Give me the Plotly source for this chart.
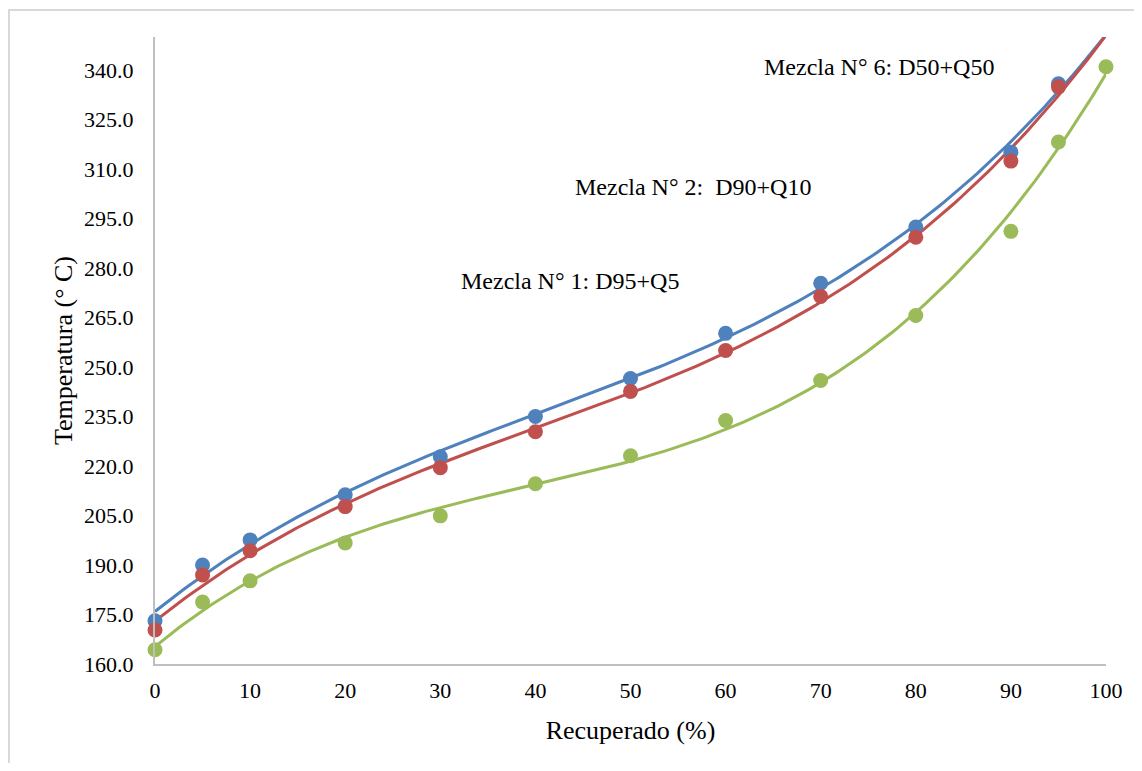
import numpy as np
import plotly.graph_objects as go

recuperado = [0, 5, 10, 20, 30, 40, 50, 60, 70, 80, 90, 95]
recuperado_verde = [0, 5, 10, 20, 30, 40, 50, 60, 70, 80, 90, 95, 100]

temp_azul = [173.1, 190.0, 197.6, 211.3, 222.8, 235.0, 246.5, 260.2, 275.4, 292.4, 315.1, 335.8]
temp_rojo = [170.3, 187.0, 194.3, 207.7, 219.5, 230.4, 242.6, 255.0, 271.4, 289.3, 312.4, 334.9]
temp_verde = [164.3, 178.8, 185.2, 196.7, 204.9, 214.6, 223.1, 233.8, 245.9, 265.6, 291.1, 318.2, 341.0]

y_ticks = [160, 175, 190, 205, 220, 235, 250, 265, 280, 295, 310, 325, 340]
x_ticks = [0, 10, 20, 30, 40, 50, 60, 70, 80, 90, 100]

etiquetas = ["Mezcla N° 6: D50+Q50", "Mezcla N° 2:  D90+Q10", "Mezcla N° 1: D95+Q5"]
ann_pos = [(63.8, 341.0), (44.0, 304.5), (32.0, 276.0)]

AZUL = "#4F81BD"
ROJO = "#C0504D"
VERDE = "#9BBB59"
FONT = "Liberation Serif"

fig = go.Figure()

series = [
    (recuperado, temp_azul, AZUL),
    (recuperado, temp_rojo, ROJO),
    (recuperado_verde, temp_verde, VERDE),
]

# polynomial trendlines (order 3), fitted from the data as a spreadsheet would
xs = np.linspace(0, 100, 201)
for x, y, c in series:
    coef = np.polyfit(x, y, 3)
    fig.add_trace(go.Scatter(x=xs, y=np.polyval(coef, xs), mode="lines",
                             line=dict(color=c, width=3), hoverinfo="skip",
                             showlegend=False))
for x, y, c in series:
    fig.add_trace(go.Scatter(x=x, y=y, mode="markers",
                             marker=dict(color=c, size=15), showlegend=False,
                             cliponaxis=False))

for (ax, ay), t in zip(ann_pos, etiquetas):
    fig.add_annotation(x=ax, y=ay, xref="x", yref="y", text=t, showarrow=False,
                       xanchor="left", yanchor="middle",
                       font=dict(family=FONT, size=24, color="black"))

# page offset (body margin) is 8px
fig.add_shape(type="rect", xref="paper", yref="paper",
              x0=(9 - 155) / 951, x1=1.2, y0=-0.3, y1=1 + (37 - 10) / 627,
              line=dict(color="#D9D9D9", width=2), fillcolor="rgba(0,0,0,0)", layer="below")

fig.update_layout(
    width=1126, height=755,
    margin=dict(l=147, r=28, t=29, b=99),
    paper_bgcolor="white", plot_bgcolor="white",
    font=dict(family=FONT, size=22, color="black"),
    xaxis=dict(range=[0, 100], tickvals=x_ticks, showgrid=False, zeroline=False,
               showline=True, linecolor="#BFBFBF", linewidth=2, ticks="",
               ticklabelstandoff=6,
               title=dict(text="Recuperado (%)", font=dict(family=FONT, size=26), standoff=18),
               tickfont=dict(family=FONT, size=22)),
    yaxis=dict(range=[160, 350], tickvals=y_ticks, tickformat=".1f", showgrid=False,
               zeroline=False, showline=True, linecolor="#BFBFBF", linewidth=2, ticks="",
               ticklabelstandoff=15,
               title=dict(text="Temperatura (° C)", font=dict(family=FONT, size=26), standoff=4),
               tickfont=dict(family=FONT, size=22)),
)

fig.write_html("out.html")
